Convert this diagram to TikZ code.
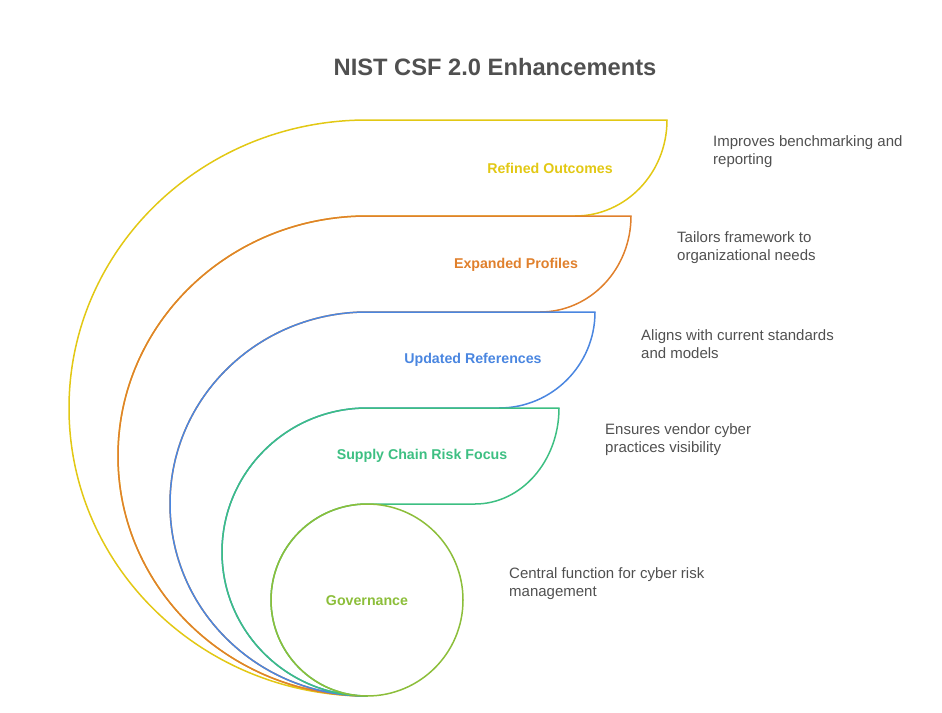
\documentclass[tikz,border=0pt]{standalone}
\usepackage{fontspec}
\setmainfont{Liberation Sans}
\usetikzlibrary{positioning}
\definecolor{refinedyellow}{HTML}{E2C814}
\definecolor{profileorange}{HTML}{E0802C}
\definecolor{refblue}{HTML}{4A86E0}
\definecolor{supplygreen}{HTML}{3DBF82}
\definecolor{govgreen}{HTML}{8CBE3A}
\definecolor{desctext}{HTML}{505050}
\tikzset{
  band/.style  = {line width=1.5pt, line join=round},
  label/.style = {font=\fontsize{14.2}{17}\selectfont\bfseries, align=center},
  desc/.style  = {anchor=west, align=left, inner sep=0pt, text=desctext, font=\fontsize{15}{18}\selectfont},
  title/.style = {font=\fontsize{23.7}{27}\selectfont\bfseries, text=desctext}
}
\begin{document}
\begin{tikzpicture}[x=1pt, y=-1pt]
  \useasboundingbox (0,0) rectangle (942,712);

  % nested bands, outermost first
  \draw[band, refinedyellow] (367,120) -- (667,120)
    arc[start angle=0, end angle=90, x radius=92, y radius=96] -- (367,216)
    arc[start angle=270, end angle=90, x radius=249, y radius=240]
    arc[start angle=90, end angle=270, x radius=298, y radius=288] -- cycle;
  \draw[band, profileorange] (367,216) -- (631,216)
    arc[start angle=0, end angle=90, x radius=91, y radius=96] -- (367,312)
    arc[start angle=270, end angle=90, x radius=197, y radius=192]
    arc[start angle=90, end angle=270, x radius=249, y radius=240] -- cycle;
  \draw[band, refblue] (367,312) -- (595,312)
    arc[start angle=0, end angle=90, x radius=96, y radius=96] -- (367,408)
    arc[start angle=270, end angle=90, x radius=145, y radius=144]
    arc[start angle=90, end angle=270, x radius=197, y radius=192] -- cycle;
  \draw[band, supplygreen] (367,408) -- (559,408)
    arc[start angle=0, end angle=90, x radius=84, y radius=96] -- (367,504)
    arc[start angle=270, end angle=90, x radius=96, y radius=96]
    arc[start angle=90, end angle=270, x radius=145, y radius=144] -- cycle;
  \draw[band, govgreen] (367,600) circle[radius=96];

  \node[title] (title) at (495,67) {NIST CSF 2.0 Enhancements};

  \node[label, text=refinedyellow] (refined) at (550,168) {Refined Outcomes};
  \node[label, text=profileorange] (profiles) at (516,265) {Expanded Profiles};
  \node[label, text=refblue] (references) at (473,360) {Updated References};
  \node[label, text=supplygreen] (supply) at (422,456) {Supply Chain Risk Focus};
  \node[label, text=govgreen] (governance) at (367,601) {Governance};

  \node[desc] (refineddesc) at (713,152) {Improves benchmarking and\\reporting};
  \node[desc] (profilesdesc) at (677,248) {Tailors framework to\\organizational needs};
  \node[desc] (referencesdesc) at (641,344) {Aligns with current standards\\and models};
  \node[desc] (supplydesc) at (605,440) {Ensures vendor cyber\\practices visibility};
  \node[desc] (governancedesc) at (509,584) {Central function for cyber risk\\management};
\end{tikzpicture}
\end{document}
